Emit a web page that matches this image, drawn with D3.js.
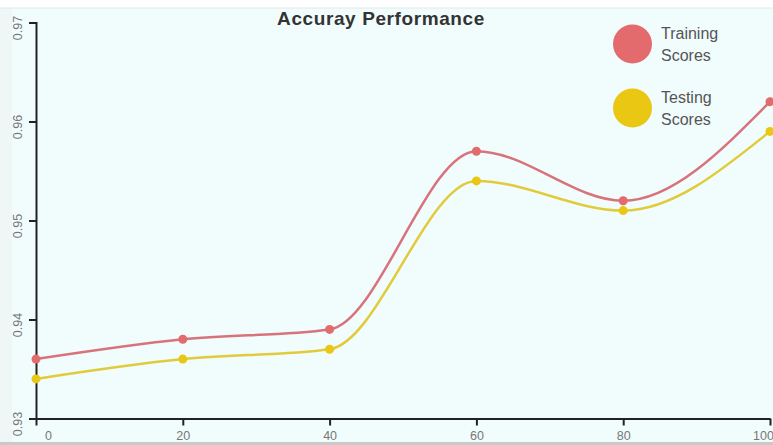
<!DOCTYPE html>
<html>
<head>
<meta charset="utf-8">
<script src="https://cdn.jsdelivr.net/npm/d3@7"></script>
<style>
  html, body { margin: 0; padding: 0; background: #ffffff; }
  svg { display: block; font-family: "Liberation Sans", Arial, sans-serif; }
</style>
</head>
<body>
<svg id="chart" width="773" height="445"></svg>
<script>
// Training sizes (%) on the x axis
const sizes = [0, 20, 40, 60, 80, 100];
// Accuracy per training size
const trainingScores = [0.936, 0.938, 0.939, 0.957, 0.952, 0.962];
const testingScores  = [0.934, 0.936, 0.937, 0.954, 0.951, 0.959];
const yTicks = [0.93, 0.94, 0.95, 0.96, 0.97];
const xTicks = [0, 20, 40, 60, 80, 100];
const seriesNames = ["Training Scores", "Testing Scores"];
const seriesColors = ["#e36b6e", "#e9c713"];
const lineColors = ["#d9737b", "#e2cb3a"];

const W = 773, H = 445;
const svg = d3.select("#chart");

// backdrop
svg.append("rect").attr("x", 0).attr("y", 8).attr("width", W).attr("height", 434).attr("fill", "#f1fcfd");
svg.append("rect").attr("x", 0).attr("y", 8).attr("width", 12).attr("height", 434).attr("fill", "#eef6f6");
svg.append("line").attr("x1", 0).attr("x2", W).attr("y1", 8).attr("y2", 8).attr("stroke", "#e2e8e8");
svg.append("rect").attr("x", 0).attr("y", 442).attr("width", W).attr("height", 3).attr("fill", "#c9c9c9");

const x = d3.scaleLinear().domain([0, 100]).range([36, 770]);
const y = d3.scaleLinear().domain([0.93, 0.97]).range([418.5, 22.5]);

// y axis
const yAxis = svg.append("g")
  .attr("transform", `translate(${x(0)},0)`)
  .call(d3.axisLeft(y).tickValues(yTicks).tickSize(7).tickSizeOuter(7).tickFormat(d3.format(".2f")));
yAxis.select(".domain").attr("stroke", "#222").attr("stroke-width", 2);
yAxis.selectAll(".tick line").attr("stroke", "#222").attr("stroke-width", 2);
yAxis.selectAll(".tick text")
  .attr("x", 0).attr("dy", 0)
  .attr("transform", "translate(-17,5) rotate(-90)")
  .attr("text-anchor", "middle")
  .attr("dominant-baseline", "middle")
  .attr("fill", "#777").attr("font-size", 12.5);

// x axis
const xAxis = svg.append("g")
  .attr("transform", `translate(0,${y(0.93)})`)
  .call(d3.axisBottom(x).tickValues(xTicks).tickSize(7).tickSizeOuter(0).tickFormat(d3.format("d")));
xAxis.select(".domain").attr("stroke", "#222").attr("stroke-width", 2);
xAxis.selectAll(".tick line").attr("stroke", "#222").attr("stroke-width", 2);
xAxis.selectAll(".tick text")
  .attr("y", 13).attr("fill", "#777").attr("font-size", 12.5)
  .attr("dx", (d, i) => i === 0 ? 12 : (i === xTicks.length - 1 ? -7 : 0));

// curves and points
const allSeries = [trainingScores, testingScores];
const line = d3.line()
  .x((d, i) => x(sizes[i]))
  .y(d => y(d))
  .curve(d3.curveMonotoneX);

allSeries.forEach((vals, k) => {
  svg.append("path")
    .datum(vals)
    .attr("d", line)
    .attr("fill", "none")
    .attr("stroke", lineColors[k])
    .attr("stroke-width", 2.5);
  svg.append("g").selectAll("circle")
    .data(vals)
    .join("circle")
    .attr("cx", (d, i) => x(sizes[i]))
    .attr("cy", d => y(d))
    .attr("r", 4.5)
    .attr("fill", seriesColors[k]);
});

// title
svg.append("text")
  .attr("x", 381).attr("y", 25)
  .attr("text-anchor", "middle")
  .attr("font-size", 19).attr("font-weight", "bold")
  .attr("letter-spacing", 0.6)
  .attr("fill", "#333")
  .text("Accuray Performance");

// legend
const legend = svg.append("g");
seriesNames.forEach((name, k) => {
  const cy = 44 + k * 64;
  legend.append("circle").attr("cx", 632.5).attr("cy", cy).attr("r", 19.5).attr("fill", seriesColors[k]);
  const words = name.split(" ");
  words.forEach((w, j) => {
    legend.append("text")
      .attr("x", 661).attr("y", cy - 5 + j * 22)
      .attr("font-size", 16).attr("fill", "#555")
      .text(w);
  });
});
</script>
</body>
</html>
